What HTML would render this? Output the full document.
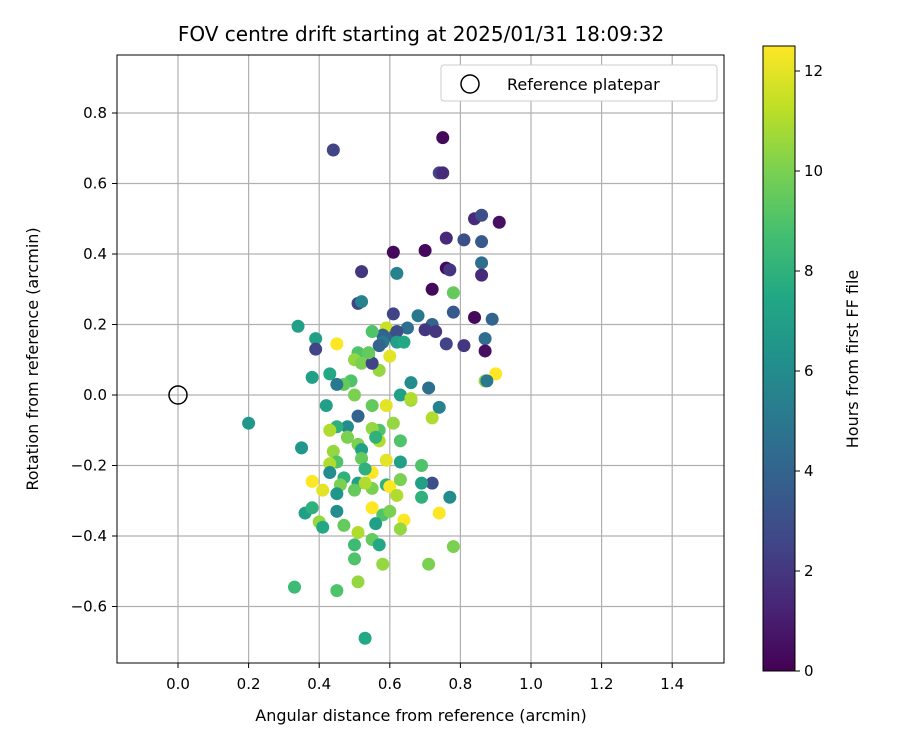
<!DOCTYPE html>
<html><head><meta charset="utf-8"><style>
html,body{margin:0;padding:0;background:#fff;}
svg text{font-family:"DejaVu Sans","Liberation Sans",sans-serif;fill:#000;}
</style></head><body>
<svg id="chart" width="900" height="750" xmlns="http://www.w3.org/2000/svg">
<defs>
<linearGradient id="vir" x1="0" y1="1" x2="0" y2="0">
<stop offset="0" stop-color="#440154"/><stop offset="0.1" stop-color="#482475"/><stop offset="0.2" stop-color="#414487"/><stop offset="0.3" stop-color="#355f8d"/><stop offset="0.4" stop-color="#2a788e"/><stop offset="0.5" stop-color="#21918c"/><stop offset="0.6" stop-color="#22a884"/><stop offset="0.7" stop-color="#44bf70"/><stop offset="0.8" stop-color="#7ad151"/><stop offset="0.9" stop-color="#bddf26"/><stop offset="1" stop-color="#fde725"/>
</linearGradient>
<clipPath id="plotclip"><rect x="117" y="55" width="607" height="608"/></clipPath>
</defs>
<text x="421" y="41" font-size="20" text-anchor="middle">FOV centre drift starting at 2025/01/31 18:09:32</text>
<g id="grid"></g>
<g id="points" clip-path="url(#plotclip)"></g>
<circle cx="178" cy="395" r="9" fill="none" stroke="#000" stroke-width="1.5"/>
<rect x="117" y="55" width="607" height="608" fill="none" stroke="#000" stroke-width="1"/>
<g id="xticks"></g><g id="yticks"></g>
<text x="421" y="721" font-size="16" text-anchor="middle">Angular distance from reference (arcmin)</text>
<text transform="translate(38,359) rotate(-90)" font-size="16" text-anchor="middle">Rotation from reference (arcmin)</text>
<g>
<rect x="441" y="65" width="276" height="36" rx="3" fill="#fff" stroke="#ccc"/>
<circle cx="470" cy="84" r="9" fill="none" stroke="#000" stroke-width="1.5"/>
<text x="507" y="90" font-size="16">Reference platepar</text>
</g>
<rect x="763" y="46" width="32" height="625" fill="url(#vir)" stroke="#000" stroke-width="1"/>
<g id="cbticks"></g>
<text transform="translate(858,359) rotate(-90)" font-size="16" text-anchor="middle">Hours from first FF file</text>
</svg>
<script>
const xTicks=[0.0,0.2,0.4,0.6,0.8,1.0,1.2,1.4];
const yTicks=[-0.6,-0.4,-0.2,0.0,0.2,0.4,0.6,0.8];
const cbTicks=[0,2,4,6,8,10,12];
const xs=[0.75,0.44,0.74,0.75,0.76,0.81,0.91,0.84,0.86,0.86,0.76,0.77,0.86,0.86,0.70,0.61,0.52,0.62,0.72,0.78,0.51,0.52,0.84,0.89,0.78,0.61,0.68,0.72,0.73,0.70,0.65,0.34,0.59,0.61,0.62,0.58,0.55,0.39,0.45,0.39,0.58,0.62,0.64,0.57,0.76,0.81,0.87,0.87,0.60,0.54,0.51,0.50,0.52,0.43,0.38,0.57,0.55,0.66,0.71,0.49,0.47,0.45,0.50,0.63,0.66,0.72,0.74,0.42,0.20,0.55,0.59,0.51,0.48,0.57,0.45,0.43,0.61,0.55,0.48,0.57,0.63,0.51,0.35,0.44,0.52,0.52,0.59,0.63,0.45,0.43,0.43,0.47,0.55,0.69,0.51,0.55,0.59,0.60,0.38,0.41,0.46,0.63,0.72,0.69,0.45,0.50,0.53,0.62,0.69,0.77,0.36,0.38,0.40,0.41,0.45,0.47,0.58,0.55,0.64,0.74,0.56,0.51,0.63,0.55,0.50,0.57,0.78,0.50,0.58,0.71,0.33,0.45,0.51,0.53,0.90,0.87,0.875,0.53,0.56,0.60,0.66,0.48,0.54];
const ys=[0.73,0.695,0.63,0.63,0.445,0.44,0.49,0.50,0.51,0.435,0.36,0.355,0.375,0.34,0.41,0.405,0.35,0.345,0.30,0.29,0.26,0.265,0.22,0.215,0.235,0.23,0.225,0.20,0.18,0.185,0.19,0.195,0.19,0.165,0.18,0.17,0.18,0.16,0.145,0.13,0.15,0.15,0.15,0.14,0.145,0.14,0.16,0.125,0.11,0.11,0.12,0.10,0.09,0.06,0.05,0.07,0.09,0.035,0.02,0.04,0.03,0.03,0.0,0.0,-0.015,-0.065,-0.035,-0.03,-0.08,-0.03,-0.03,-0.06,-0.09,-0.10,-0.09,-0.10,-0.08,-0.095,-0.12,-0.13,-0.13,-0.14,-0.15,-0.16,-0.155,-0.18,-0.185,-0.19,-0.19,-0.195,-0.22,-0.235,-0.22,-0.20,-0.25,-0.265,-0.255,-0.26,-0.245,-0.27,-0.255,-0.24,-0.25,-0.25,-0.28,-0.27,-0.25,-0.285,-0.29,-0.29,-0.335,-0.32,-0.36,-0.375,-0.33,-0.37,-0.34,-0.32,-0.355,-0.335,-0.365,-0.39,-0.38,-0.41,-0.425,-0.425,-0.43,-0.465,-0.48,-0.48,-0.545,-0.555,-0.53,-0.69,0.06,0.04,0.04,-0.21,-0.12,-0.33,-0.01,-0.12,0.12];
const hs=[0.3,2.5,2.5,1.5,1.5,3,0.5,1.5,3,3.5,0.3,2,4.5,1.5,0.3,0.3,2,5.5,0.3,9.5,2.5,5.5,0.3,4,3.5,2.5,5,4,2,2,4.5,7,11.5,4,3,4,9,7,12.5,2.5,5,7,7.5,4,2.5,2,4.5,0.5,12,10,9,10.5,10,7.5,7,10.5,2.5,6,4.5,9,9.5,5,10,7,10.5,11,5.5,7,6.5,9.5,12,4,6,9,8,11,10.5,10.5,11.5,11,9,10,6.5,10.5,7,9.5,12,7,9,11,6,8,12.5,9,7,10,8,12.5,12.5,12,10,10,3,7,6.5,9.5,11,11,8,6,7,8,10.5,7.5,6,9.5,9,12.5,12.5,12.5,7,11,10.5,9.5,8.5,7.5,10,9,10.5,10,8.5,9,10.5,7.5,12.5,10.5,5,8,8,10,11,10,9.5];
const X=v=>178+v*353, Y=v=>395-v*352.5, C=v=>671-v*50;
const stops=["#440154","#482475","#414487","#355f8d","#2a788e","#21918c","#22a884","#44bf70","#7ad151","#bddf26","#fde725"];
function hex(h){return [1,3,5].map(i=>parseInt(h.substr(i,2),16));}
function vir(h){let t=Math.max(0,Math.min(1,h/12.5))*10;let i=Math.min(9,Math.floor(t)),f=t-i;
const a=hex(stops[i]),b=hex(stops[i+1]);return "rgb("+a.map((c,k)=>Math.round(c+(b[k]-c)*f)).join(",")+")";}
const NS="http://www.w3.org/2000/svg";
function mk(t,a,p){const e=document.createElementNS(NS,t);for(const k in a)e.setAttribute(k,a[k]);p.appendChild(e);return e;}
const grid=document.getElementById("grid"),xt=document.getElementById("xticks"),yt=document.getElementById("yticks"),pts=document.getElementById("points"),cb=document.getElementById("cbticks");
xTicks.forEach(v=>{const x=X(v);
const g=mk("line",{x1:x,x2:x,y1:55,y2:663,stroke:"#b0b0b0","stroke-width":1.2},grid);


mk("line",{x1:x,x2:x,y1:663,y2:668,stroke:"#000"},xt);
const t=mk("text",{x:x,y:689,"font-size":15,"text-anchor":"middle"},xt);t.textContent=v.toFixed(1);

});
yTicks.forEach(v=>{const y=Y(v);
const g=mk("line",{x1:117,x2:724,y1:y,y2:y,stroke:"#b0b0b0","stroke-width":1.2},grid);


mk("line",{x1:112,x2:117,y1:y,y2:y,stroke:"#000"},yt);
const t=mk("text",{x:107,y:y+5,"font-size":15,"text-anchor":"end"},yt);t.textContent=(v<0?"\u2212":"")+Math.abs(v).toFixed(1);

});
xs.forEach((v,i)=>{const c=mk("circle",{cx:X(v),cy:Y(ys[i]),r:6.5,fill:vir(hs[i])},pts);

});
cbTicks.forEach(v=>{const y=C(v);mk("line",{x1:795,x2:800,y1:y,y2:y,stroke:"#000"},cb);
const t=mk("text",{x:804,y:y+5,"font-size":15},cb);t.textContent=v;

});
</script>
</body></html>
